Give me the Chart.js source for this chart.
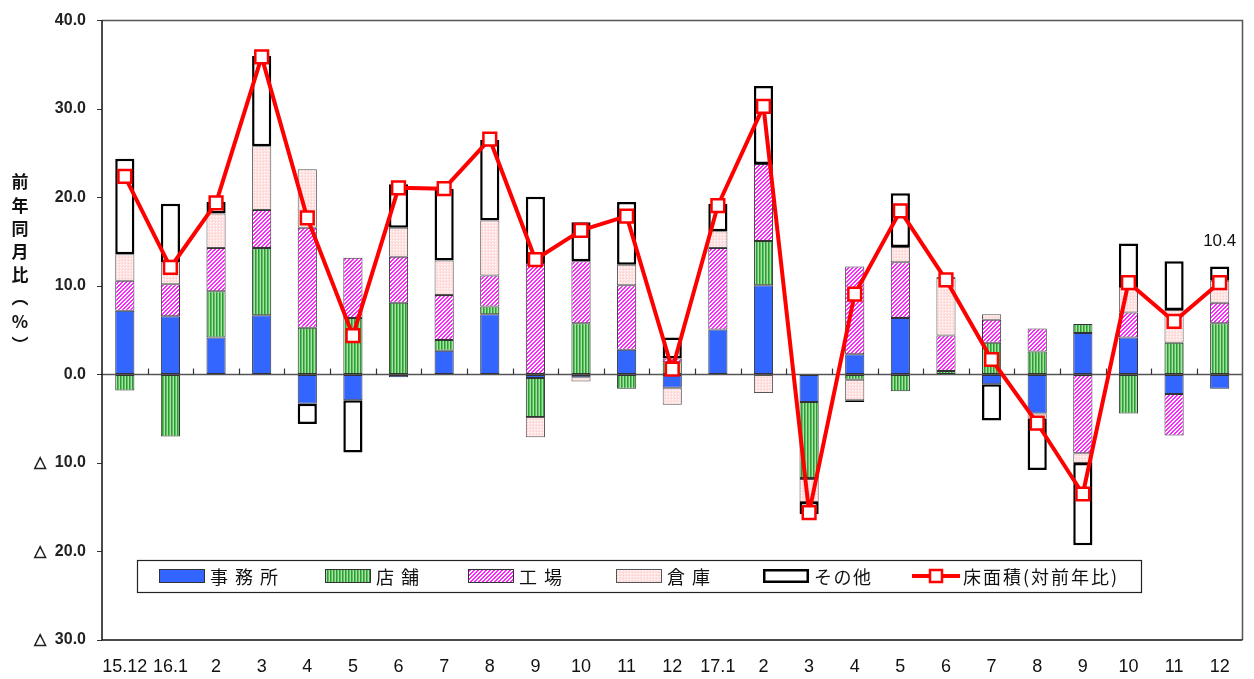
<!DOCTYPE html>
<html>
<head>
<meta charset="utf-8">
<script src="https://cdn.jsdelivr.net/npm/chart.js@4/dist/chart.umd.min.js"></script>
<style>
html,body{margin:0;padding:0;background:#fff;}
#wrap{position:relative;width:1254px;height:679px;}
</style>
</head>
<body>
<div id="wrap"><canvas id="c" width="1254" height="679"></canvas></div>
<script>
// ---- data ----
const categories = ['15.12','16.1','2','3','4','5','6','7','8','9','10','11','12','17.1','2','3','4','5','6','7','8','9','10','11','12'];
const office    = [7.2, 6.6, 4.2, 6.7, -3.3, -2.9, -0.3, 2.7, 6.8, -0.4, -0.3, 2.8, -1.5, 5.1, 10.1, -3.1, 2.3, 6.4, 0, -1.1, -4.4, 4.7, 4.2, -2.2, -1.6];
const store     = [-1.8, -7.0, 5.2, 7.6, 5.3, 6.4, 8.1, 1.2, 0.9, -4.4, 5.8, -1.6, 1.4, 0, 5.0, -8.6, -0.6, -1.9, 0.4, 3.6, 2.6, 1.0, -4.4, 3.6, 5.8];
const factory   = [3.4, 3.6, 4.9, 4.3, 11.3, 6.8, 5.2, 5.1, 3.5, 12.6, 7.0, 7.3, 0.4, 9.2, 8.7, -0.1, 9.9, 6.3, 4.0, 2.6, 2.6, -8.9, 2.8, -4.7, 2.3];
const warehouse = [3.0, 2.5, 3.9, 7.2, 6.6, 0, 3.3, 3.9, 6.2, -2.3, -0.5, 2.3, -1.9, 1.9, -2.1, -2.6, -2.3, 1.7, 6.5, 0.6, -0.6, -1.1, 2.9, 3.7, 2.5];
const other     = [10.8, 6.6, 1.3, 10.2, -2.3, -5.9, 4.9, 8.1, 9.1, 7.5, 4.4, 7.1, 2.4, 3.1, 8.8, -1.4, -0.2, 6.1, 0.1, -4.1, -5.8, -9.3, 4.9, 5.5, 1.6];
const floorArea = [22.4, 12.1, 19.4, 35.9, 17.7, 4.4, 21.1, 21.0, 26.6, 13.0, 16.3, 17.9, 0.6, 19.1, 30.3, -15.6, 9.1, 18.5, 10.7, 1.7, -5.5, -13.5, 10.4, 6.0, 10.4];
const seriesNames = ['事 務 所','店 舗','工 場','倉 庫','その他','床面積(対前年比)'];
const yTickValues = [40, 30, 20, 10, 0, -10, -20, -30];
const yTitleChars = ['前','年','同','月','比','︵','%','︶'];
const lastLabel = '10.4';

// ---- patterns ----
function makePattern(w, h, draw) {
  const c = document.createElement('canvas'); c.width = w; c.height = h;
  const x = c.getContext('2d'); draw(x);
  return document.getElementById('c').getContext('2d').createPattern(c, 'repeat');
}
const greenPat = makePattern(3, 3, x => {
  x.fillStyle = '#2f9a3a'; x.fillRect(0,0,1,3);
  x.fillStyle = '#5cc25c'; x.fillRect(1,0,1,3);
  x.fillStyle = '#a8e2a8'; x.fillRect(2,0,1,3);
});
const pinkPat = makePattern(4, 4, x => {
  x.fillStyle = '#ffffff'; x.fillRect(0,0,4,4);
  x.fillStyle = '#ff22ff';
  for (let i = 0; i < 4; i++) { x.fillRect(i, (3 - i) % 4, 1, 1); x.fillRect(i, (4 - i) % 4, 1, 1); }
});
const lpPat = makePattern(3, 3, x => {
  x.fillStyle = '#ffe2e2'; x.fillRect(0,0,3,3);
  x.fillStyle = '#ffffff'; x.fillRect(0,0,1,1);
  x.fillStyle = '#ffcccc'; x.fillRect(2,2,1,1);
});

const barCommon = { type: 'bar', stack: 'bars', order: 1, borderSkipped: false, barPercentage: 0.42, categoryPercentage: 1 };

const plotFrame = {
  id: 'plotFrame',
  beforeDatasetsDraw(chart) {
    const { ctx, chartArea: a, scales } = chart;
    const y0 = scales.y.getPixelForValue(0);
    ctx.save();
    ctx.strokeStyle = '#555'; ctx.lineWidth = 1.5;
    ctx.beginPath(); ctx.moveTo(a.left, y0); ctx.lineTo(a.right, y0); ctx.stroke();
    ctx.lineWidth = 1.2; ctx.strokeStyle = '#333';
    const n = chart.data.labels.length;
    for (let i = 1; i < n; i++) {
      const x = (scales.x.getPixelForValue(i - 1) + scales.x.getPixelForValue(i)) / 2;
      ctx.beginPath(); ctx.moveTo(Math.round(x) + 0.5, y0); ctx.lineTo(Math.round(x) + 0.5, y0 - 6); ctx.stroke();
    }
    ctx.restore();
  },
  afterDraw(chart) {
    const { ctx, chartArea: a } = chart;
    ctx.save();
    ctx.strokeStyle = '#555'; ctx.lineWidth = 1.5;
    ctx.beginPath();
    ctx.moveTo(a.left, a.top); ctx.lineTo(a.right, a.top); ctx.lineTo(a.right, a.bottom);
    ctx.stroke();
    ctx.strokeStyle = '#111'; ctx.lineWidth = 1.5;
    ctx.beginPath(); ctx.moveTo(a.left, a.top); ctx.lineTo(a.left, a.bottom); ctx.lineTo(a.right, a.bottom); ctx.stroke();

    // y-axis title (vertical)
    ctx.fillStyle = '#111';
    ctx.font = 'bold 17px "Noto Sans CJK JP"';
    ctx.textAlign = 'center'; ctx.textBaseline = 'middle';
    yTitleChars.forEach((ch, i) => ctx.fillText(ch, 20, 182 + i * 23.2));

    // last-point label
    const meta = chart.getDatasetMeta(5);
    const p = meta.data[meta.data.length - 1];
    ctx.font = '17px "Liberation Sans"';
    ctx.fillStyle = '#111';
    ctx.fillText(lastLabel, p.x, p.y - 41);

    // legend box
    const L = 137, T = 560, R = 1141, B = 592;
    ctx.fillStyle = '#fff'; ctx.fillRect(L, T, R - L, B - T);
    ctx.strokeStyle = '#222'; ctx.lineWidth = 1.2; ctx.strokeRect(L + 0.5, T + 0.5, R - L, B - T);
    const sx = [159, 325, 468, 616, 763, 912];
    const cy = (T + B) / 2;
    ctx.font = '18px "Noto Sans CJK JP"';
    ctx.textAlign = 'left';
    chart.data.datasets.forEach((ds, i) => {
      const x = sx[i];
      if (ds.type === 'bar') {
        ctx.fillStyle = ds.backgroundColor;
        ctx.fillRect(x, cy - 7, 46, 14);
        ctx.strokeStyle = ds.borderColor; ctx.lineWidth = ds.borderWidth;
        ctx.strokeRect(x + ds.borderWidth / 2, cy - 7 + ds.borderWidth / 2, 46 - ds.borderWidth, 14 - ds.borderWidth);
      } else {
        ctx.strokeStyle = ds.borderColor; ctx.lineWidth = 4;
        ctx.beginPath(); ctx.moveTo(x, cy); ctx.lineTo(x + 48, cy); ctx.stroke();
        ctx.fillStyle = '#fff'; ctx.fillRect(x + 18, cy - 6, 12, 12);
        ctx.lineWidth = 2.5; ctx.strokeRect(x + 18, cy - 6, 12, 12);
      }
      ctx.fillStyle = '#111';
      ctx.letterSpacing = i === 5 ? '2px' : '1.5px';
      ctx.fillText(ds.label, x + 51, cy + 1);
      ctx.letterSpacing = '0px';
    });
    ctx.restore();
  }
};

new Chart(document.getElementById('c'), {
  data: {
    labels: categories,
    datasets: [
      { ...barCommon, label: seriesNames[0], data: office, backgroundColor: '#3366ff', borderColor: '#333', borderWidth: 1 },
      { ...barCommon, label: seriesNames[1], data: store, backgroundColor: greenPat, borderColor: '#333', borderWidth: 1 },
      { ...barCommon, label: seriesNames[2], data: factory, backgroundColor: pinkPat, borderColor: '#333', borderWidth: 1 },
      { ...barCommon, label: seriesNames[3], data: warehouse, backgroundColor: lpPat, borderColor: '#555', borderWidth: 1 },
      { ...barCommon, label: seriesNames[4], data: other, backgroundColor: '#ffffff', borderColor: '#000', borderWidth: 2.5 },
      { type: 'line', label: seriesNames[5], data: floorArea, stack: 'line', order: 0,
        borderColor: '#ff0000', borderWidth: 4, tension: 0, borderJoinStyle: 'round',
        pointStyle: 'rect', pointRadius: 9, pointHoverRadius: 9,
        pointBackgroundColor: '#ffffff', pointBorderColor: '#ff0000', pointBorderWidth: 2.5 }
    ]
  },
  options: {
    responsive: false,
    animation: false,
    events: [],
    layout: { padding: { top: 19, right: 2, left: 0, bottom: 0 } },
    plugins: { legend: { display: false }, tooltip: { enabled: false } },
    scales: {
      x: {
        stacked: true,
        grid: { display: false, drawTicks: false },
        border: { display: false },
        ticks: { color: '#111', padding: 16, maxRotation: 0, autoSkip: false,
          font: { family: '"Liberation Sans Narrow", "Arial Narrow", "Liberation Sans"', size: 18 } },
        afterFit(s) { s.height = 39; }
      },
      y: {
        stacked: true,
        min: -30, max: 40,
        afterBuildTicks(s) { s.ticks = yTickValues.map(v => ({ value: v })); },
        grid: { drawOnChartArea: false, drawTicks: true, tickLength: 5, color: '#333' },
        border: { display: false },
        ticks: { color: '#222', padding: 11,
          font: { family: '"Liberation Sans", Arial', size: 16, weight: 'bold' },
          callback: v => v < 0 ? '△  ' + Math.abs(v).toFixed(1) : v.toFixed(1) },
        afterFit(s) { s.width = 102; }
      }
    }
  },
  plugins: [plotFrame]
});
</script>
</body>
</html>
